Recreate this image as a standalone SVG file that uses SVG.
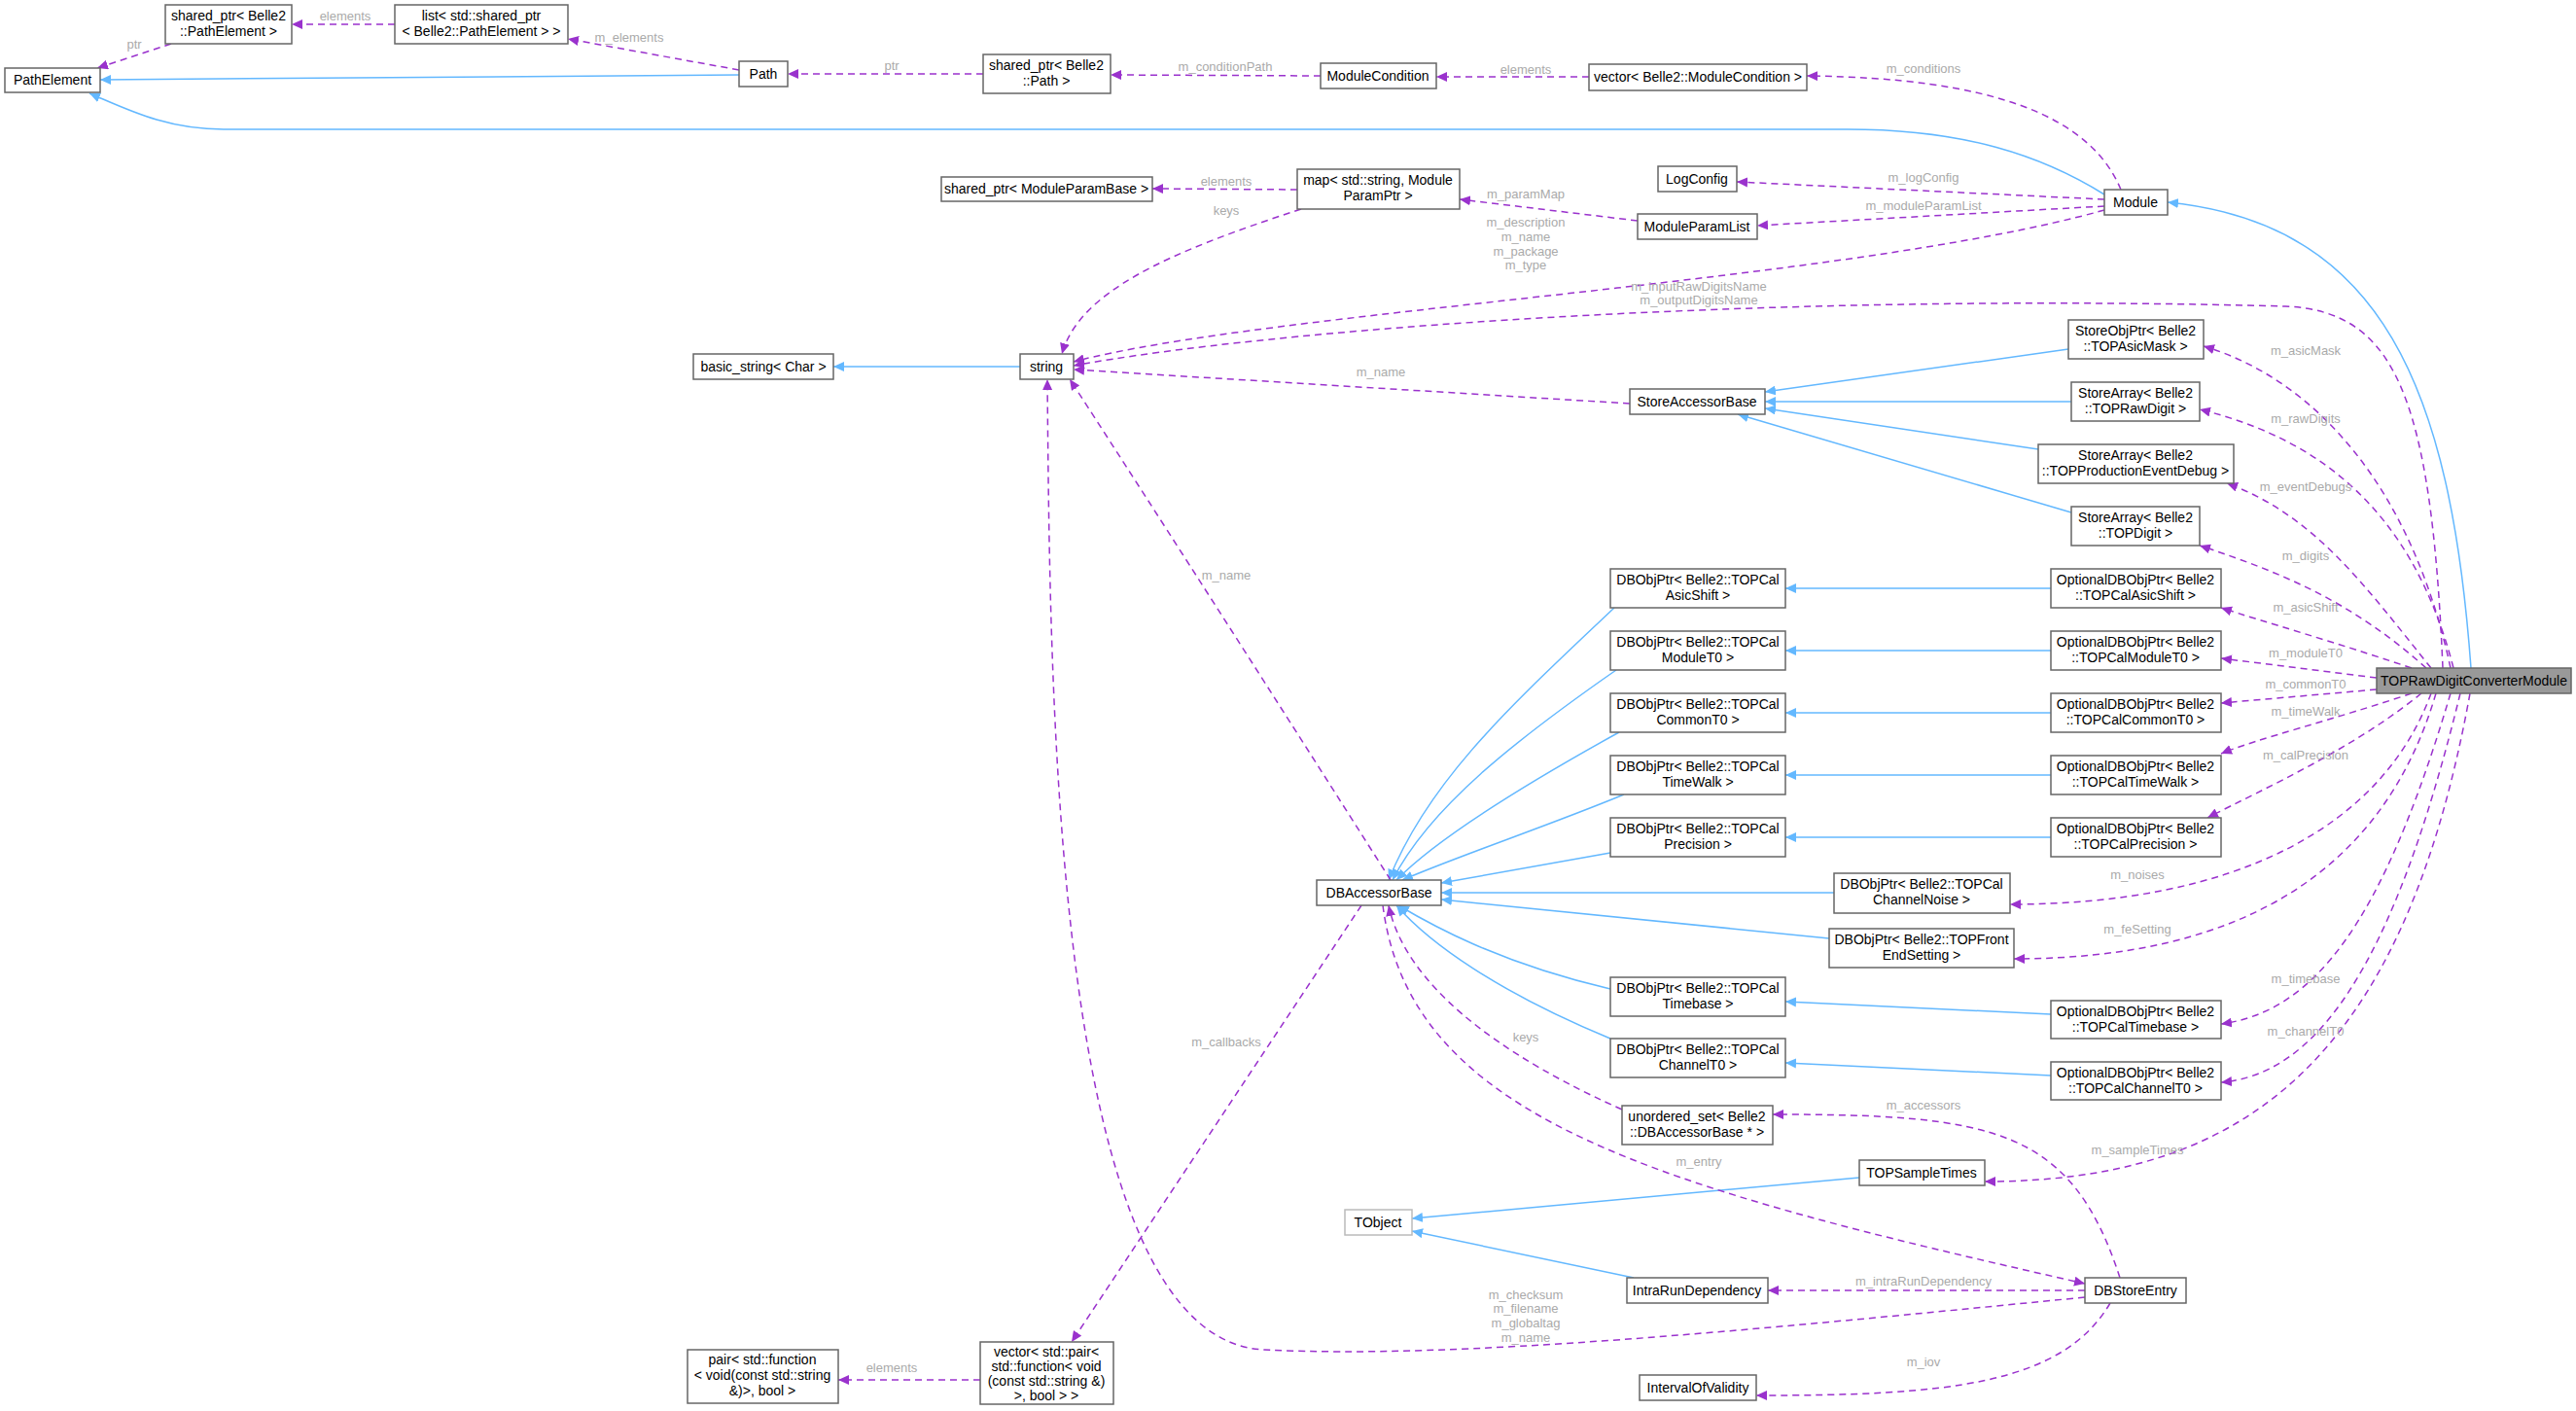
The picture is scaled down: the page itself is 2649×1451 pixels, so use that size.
<svg xmlns="http://www.w3.org/2000/svg" width="2649" height="1451" viewBox="0 0 2649 1451">
<style>
.n rect{fill:#fff;stroke:#666;stroke-width:1.5}
.n text{font-family:"Liberation Sans",Arial,sans-serif;font-size:14px;fill:#000;text-anchor:middle}
.b{fill:none;stroke:#63b8ff;stroke-width:1.5}
.p{fill:none;stroke:#9a32cd;stroke-width:1.5;stroke-dasharray:7,5}
.l{font-family:"Liberation Sans",Arial,sans-serif;font-size:13px;fill:#aaa;text-anchor:middle}
</style>
<defs>
<marker id="ab" markerWidth="12" markerHeight="10" refX="11" refY="5" orient="auto" markerUnits="userSpaceOnUse"><path d="M0,0 L11,5 L0,10 z" fill="#63b8ff"/></marker>
<marker id="ap" markerWidth="12" markerHeight="10" refX="11" refY="5" orient="auto" markerUnits="userSpaceOnUse"><path d="M0,0 L11,5 L0,10 z" fill="#9a32cd"/></marker>
</defs>
<rect width="2649" height="1451" fill="#fff"/>
<g id="edges">
<g marker-end="url(#ab)">
<path class="b" d="M760,77 L103,82"/>
<path class="b" d="M2164,200 C2100,160 2020,133 1900,133 L230,133 C170,133 130,112 92,96"/>
<path class="b" d="M2541,687 C2520,400 2450,230 2229,208"/>
<path class="b" d="M2127,359 L1815,403"/>
<path class="b" d="M2130,413 L1815,413"/>
<path class="b" d="M2096,462 L1815,420"/>
<path class="b" d="M2130,527 L1787,426"/>
<path class="b" d="M2109,605 L1836,605"/>
<path class="b" d="M2109,669 L1836,669"/>
<path class="b" d="M2109,733 L1836,733"/>
<path class="b" d="M2109,797 L1836,797"/>
<path class="b" d="M2109,861 L1836,861"/>
<path class="b" d="M2109,1043 L1836,1030"/>
<path class="b" d="M2109,1106 L1836,1093"/>
<path class="b" d="M1660,625 C1560,720 1470,800 1428,905"/>
<path class="b" d="M1662,689 C1560,760 1470,830 1432,905"/>
<path class="b" d="M1665,753 C1580,800 1480,860 1436,905"/>
<path class="b" d="M1670,817 C1590,850 1500,880 1442,905"/>
<path class="b" d="M1656,877 L1482,908"/>
<path class="b" d="M1886,918 L1482,918"/>
<path class="b" d="M1881,965 L1482,925"/>
<path class="b" d="M1656,1017 C1540,990 1470,950 1438,931"/>
<path class="b" d="M1656,1068 C1540,1020 1470,970 1436,931"/>
<path class="b" d="M1049,377 L857,377"/>
<path class="b" d="M1912,1211 L1452,1253"/>
<path class="b" d="M1680,1314 L1452,1266"/>
</g>
<g marker-end="url(#ap)">
<path class="p" d="M176,45 L100,70"/>
<path class="p" d="M406,25 L300,25"/>
<path class="p" d="M760,72 L584,40"/>
<path class="p" d="M1011,76 L810,76"/>
<path class="p" d="M1358,78 L1142,77"/>
<path class="p" d="M1634,79 L1477,79"/>
<path class="p" d="M2181,195 C2150,120 2050,80 1858,78"/>
<path class="p" d="M2164,205 L1786,187"/>
<path class="p" d="M2164,212 L1807,232"/>
<path class="p" d="M1684,227 L1501,205"/>
<path class="p" d="M1334,195 L1185,194"/>
<path class="p" d="M1338,215 C1200,260 1110,300 1092,364"/>
<path class="p" d="M2164,216 C1900,290 1300,320 1104,372"/>
<path class="p" d="M2512,687 C2500,400 2460,320 2350,315 C1800,300 1300,340 1104,376"/>
<path class="p" d="M1676,415 L1104,380"/>
<path class="p" d="M1430,905 C1300,700 1120,420 1100,390"/>
<path class="p" d="M2144,1334 C1800,1368 1500,1398 1300,1388 C1080,1378 1080,700 1077,390"/>
<path class="p" d="M1400,931 L1102,1380"/>
<path class="p" d="M1008,1419 L862,1419"/>
<path class="p" d="M1668,1141 C1500,1066 1440,990 1428,931"/>
<path class="p" d="M2180,1314 C2130,1160 2050,1146 1823,1146"/>
<path class="p" d="M1422,931 C1450,1150 1700,1220 2144,1320"/>
<path class="p" d="M2144,1327 L1818,1327"/>
<path class="p" d="M2170,1340 C2120,1425 2000,1435 1806,1435"/>
<path class="p" d="M2520,687 C2480,500 2380,390 2266,356"/>
<path class="p" d="M2523,687 C2480,520 2380,450 2262,421"/>
<path class="p" d="M2500,687 C2430,600 2380,530 2290,497"/>
<path class="p" d="M2495,687 C2420,620 2350,590 2262,561"/>
<path class="p" d="M2480,687 C2400,660 2330,640 2284,625"/>
<path class="p" d="M2444,697 L2284,677"/>
<path class="p" d="M2444,709 L2284,723"/>
<path class="p" d="M2480,713 C2400,740 2320,760 2284,775"/>
<path class="p" d="M2490,713 C2420,770 2330,810 2270,841"/>
<path class="p" d="M2500,713 C2450,850 2300,930 2067,930"/>
<path class="p" d="M2505,713 C2450,900 2300,986 2071,986"/>
<path class="p" d="M2520,713 C2450,950 2380,1040 2284,1053"/>
<path class="p" d="M2530,713 C2460,1000 2380,1105 2284,1113"/>
<path class="p" d="M2540,713 C2470,1100 2300,1215 2041,1215"/>
</g>
<g>
<text class="l" x="138" y="50">ptr</text>
<text class="l" x="355" y="21">elements</text>
<text class="l" x="647" y="43">m_elements</text>
<text class="l" x="917" y="72">ptr</text>
<text class="l" x="1260" y="73">m_conditionPath</text>
<text class="l" x="1569" y="76">elements</text>
<text class="l" x="1978" y="75">m_conditions</text>
<text class="l" x="1978" y="187">m_logConfig</text>
<text class="l" x="1978" y="216">m_moduleParamList</text>
<text class="l" x="1569" y="204">m_paramMap</text>
<text class="l" x="1261" y="191">elements</text>
<text class="l" x="1261" y="221">keys</text>
<text class="l" x="1569" y="233">m_description</text>
<text class="l" x="1569" y="248">m_name</text>
<text class="l" x="1569" y="263">m_package</text>
<text class="l" x="1569" y="277">m_type</text>
<text class="l" x="1747" y="299">m_inputRawDigitsName</text>
<text class="l" x="1747" y="313">m_outputDigitsName</text>
<text class="l" x="1420" y="387">m_name</text>
<text class="l" x="1261" y="596">m_name</text>
<text class="l" x="1261" y="1076">m_callbacks</text>
<text class="l" x="917" y="1411">elements</text>
<text class="l" x="1569" y="1071">keys</text>
<text class="l" x="1978" y="1141">m_accessors</text>
<text class="l" x="1747" y="1199">m_entry</text>
<text class="l" x="1978" y="1322">m_intraRunDependency</text>
<text class="l" x="1569" y="1336">m_checksum</text>
<text class="l" x="1569" y="1350">m_filename</text>
<text class="l" x="1569" y="1365">m_globaltag</text>
<text class="l" x="1569" y="1380">m_name</text>
<text class="l" x="1978" y="1405">m_iov</text>
<text class="l" x="2371" y="365">m_asicMask</text>
<text class="l" x="2371" y="435">m_rawDigits</text>
<text class="l" x="2371" y="505">m_eventDebugs</text>
<text class="l" x="2371" y="576">m_digits</text>
<text class="l" x="2371" y="629">m_asicShift</text>
<text class="l" x="2371" y="676">m_moduleT0</text>
<text class="l" x="2371" y="708">m_commonT0</text>
<text class="l" x="2371" y="736">m_timeWalk</text>
<text class="l" x="2371" y="781">m_calPrecision</text>
<text class="l" x="2198" y="904">m_noises</text>
<text class="l" x="2198" y="960">m_feSetting</text>
<text class="l" x="2371" y="1011">m_timebase</text>
<text class="l" x="2371" y="1065">m_channelT0</text>
<text class="l" x="2198" y="1187">m_sampleTimes</text>
</g>
</g>
<g id="n_spPE" class="n"><rect x="170" y="5" width="130" height="40"/><text x="235" y="21">shared_ptr&lt; Belle2</text><text x="235" y="37">::PathElement &gt;</text></g>
<g id="n_list" class="n"><rect x="406" y="5" width="178" height="40"/><text x="495" y="21">list&lt; std::shared_ptr</text><text x="495" y="37">&lt; Belle2::PathElement &gt; &gt;</text></g>
<g id="n_PathElement" class="n"><rect x="5" y="70" width="98" height="25"/><text x="54" y="87">PathElement</text></g>
<g id="n_Path" class="n"><rect x="760" y="63" width="50" height="26"/><text x="785" y="81">Path</text></g>
<g id="n_spPath" class="n"><rect x="1011" y="56" width="131" height="40"/><text x="1076" y="72">shared_ptr&lt; Belle2</text><text x="1076" y="88">::Path &gt;</text></g>
<g id="n_ModuleCondition" class="n"><rect x="1358" y="65" width="119" height="26"/><text x="1417" y="83">ModuleCondition</text></g>
<g id="n_vecMC" class="n"><rect x="1634" y="66" width="224" height="27"/><text x="1746" y="84">vector&lt; Belle2::ModuleCondition &gt;</text></g>
<g id="n_spMPB" class="n"><rect x="968" y="182" width="217" height="25"/><text x="1076" y="199">shared_ptr&lt; ModuleParamBase &gt;</text></g>
<g id="n_map" class="n"><rect x="1334" y="174" width="167" height="41"/><text x="1417" y="190">map&lt; std::string, Module</text><text x="1417" y="206">ParamPtr &gt;</text></g>
<g id="n_LogConfig" class="n"><rect x="1705" y="171" width="81" height="26"/><text x="1745" y="189">LogConfig</text></g>
<g id="n_ModuleParamList" class="n"><rect x="1684" y="220" width="123" height="26"/><text x="1745" y="238">ModuleParamList</text></g>
<g id="n_Module" class="n"><rect x="2164" y="195" width="65" height="26"/><text x="2196" y="213">Module</text></g>
<g id="n_basic_string" class="n"><rect x="713" y="364" width="144" height="26"/><text x="785" y="382">basic_string&lt; Char &gt;</text></g>
<g id="n_string" class="n"><rect x="1049" y="364" width="55" height="26"/><text x="1076" y="382">string</text></g>
<g id="n_StoreAccessorBase" class="n"><rect x="1676" y="400" width="139" height="26"/><text x="1745" y="418">StoreAccessorBase</text></g>
<g id="n_AsicMask" class="n"><rect x="2127" y="329" width="139" height="40"/><text x="2196" y="345">StoreObjPtr&lt; Belle2</text><text x="2196" y="361">::TOPAsicMask &gt;</text></g>
<g id="n_RawDigit" class="n"><rect x="2130" y="393" width="132" height="40"/><text x="2196" y="409">StoreArray&lt; Belle2</text><text x="2196" y="425">::TOPRawDigit &gt;</text></g>
<g id="n_EventDebug" class="n"><rect x="2096" y="457" width="201" height="40"/><text x="2196" y="473">StoreArray&lt; Belle2</text><text x="2196" y="489">::TOPProductionEventDebug &gt;</text></g>
<g id="n_TOPDigit" class="n"><rect x="2130" y="521" width="132" height="40"/><text x="2196" y="537">StoreArray&lt; Belle2</text><text x="2196" y="553">::TOPDigit &gt;</text></g>
<g id="n_Converter" class="n"><rect x="2444" y="687" width="200" height="26" style="fill:#999;stroke:#666"/><text x="2544" y="705">TOPRawDigitConverterModule</text></g>
<g id="n_dbAsicShift" class="n"><rect x="1656" y="585" width="180" height="40"/><text x="1746" y="601">DBObjPtr&lt; Belle2::TOPCal</text><text x="1746" y="617">AsicShift &gt;</text></g>
<g id="n_dbModuleT0" class="n"><rect x="1656" y="649" width="180" height="40"/><text x="1746" y="665">DBObjPtr&lt; Belle2::TOPCal</text><text x="1746" y="681">ModuleT0 &gt;</text></g>
<g id="n_dbCommonT0" class="n"><rect x="1656" y="713" width="180" height="40"/><text x="1746" y="729">DBObjPtr&lt; Belle2::TOPCal</text><text x="1746" y="745">CommonT0 &gt;</text></g>
<g id="n_dbTimeWalk" class="n"><rect x="1656" y="777" width="180" height="40"/><text x="1746" y="793">DBObjPtr&lt; Belle2::TOPCal</text><text x="1746" y="809">TimeWalk &gt;</text></g>
<g id="n_dbPrecision" class="n"><rect x="1656" y="841" width="180" height="40"/><text x="1746" y="857">DBObjPtr&lt; Belle2::TOPCal</text><text x="1746" y="873">Precision &gt;</text></g>
<g id="n_opAsicShift" class="n"><rect x="2109" y="585" width="175" height="40"/><text x="2196" y="601">OptionalDBObjPtr&lt; Belle2</text><text x="2196" y="617">::TOPCalAsicShift &gt;</text></g>
<g id="n_opModuleT0" class="n"><rect x="2109" y="649" width="175" height="40"/><text x="2196" y="665">OptionalDBObjPtr&lt; Belle2</text><text x="2196" y="681">::TOPCalModuleT0 &gt;</text></g>
<g id="n_opCommonT0" class="n"><rect x="2109" y="713" width="175" height="40"/><text x="2196" y="729">OptionalDBObjPtr&lt; Belle2</text><text x="2196" y="745">::TOPCalCommonT0 &gt;</text></g>
<g id="n_opTimeWalk" class="n"><rect x="2109" y="777" width="175" height="40"/><text x="2196" y="793">OptionalDBObjPtr&lt; Belle2</text><text x="2196" y="809">::TOPCalTimeWalk &gt;</text></g>
<g id="n_opPrecision" class="n"><rect x="2109" y="841" width="175" height="40"/><text x="2196" y="857">OptionalDBObjPtr&lt; Belle2</text><text x="2196" y="873">::TOPCalPrecision &gt;</text></g>
<g id="n_DBAccessorBase" class="n"><rect x="1354" y="905" width="128" height="26"/><text x="1418" y="923">DBAccessorBase</text></g>
<g id="n_ChannelNoise" class="n"><rect x="1886" y="898" width="181" height="41"/><text x="1976" y="914">DBObjPtr&lt; Belle2::TOPCal</text><text x="1976" y="930">ChannelNoise &gt;</text></g>
<g id="n_FrontEnd" class="n"><rect x="1881" y="955" width="190" height="40"/><text x="1976" y="971">DBObjPtr&lt; Belle2::TOPFront</text><text x="1976" y="987">EndSetting &gt;</text></g>
<g id="n_dbTimebase" class="n"><rect x="1656" y="1005" width="180" height="40"/><text x="1746" y="1021">DBObjPtr&lt; Belle2::TOPCal</text><text x="1746" y="1037">Timebase &gt;</text></g>
<g id="n_dbChannelT0" class="n"><rect x="1656" y="1068" width="180" height="40"/><text x="1746" y="1084">DBObjPtr&lt; Belle2::TOPCal</text><text x="1746" y="1100">ChannelT0 &gt;</text></g>
<g id="n_opTimebase" class="n"><rect x="2109" y="1029" width="175" height="39"/><text x="2196" y="1045">OptionalDBObjPtr&lt; Belle2</text><text x="2196" y="1061">::TOPCalTimebase &gt;</text></g>
<g id="n_opChannelT0" class="n"><rect x="2109" y="1092" width="175" height="39"/><text x="2196" y="1108">OptionalDBObjPtr&lt; Belle2</text><text x="2196" y="1124">::TOPCalChannelT0 &gt;</text></g>
<g id="n_unordered" class="n"><rect x="1668" y="1137" width="155" height="40"/><text x="1745" y="1153">unordered_set&lt; Belle2</text><text x="1745" y="1169">::DBAccessorBase * &gt;</text></g>
<g id="n_SampleTimes" class="n"><rect x="1912" y="1193" width="129" height="26"/><text x="1976" y="1211">TOPSampleTimes</text></g>
<g id="n_TObject" class="n"><rect x="1383" y="1244" width="69" height="26" style="stroke:#bbb"/><text x="1417" y="1262">TObject</text></g>
<g id="n_IntraRun" class="n"><rect x="1673" y="1314" width="145" height="26"/><text x="1745" y="1332">IntraRunDependency</text></g>
<g id="n_DBStoreEntry" class="n"><rect x="2144" y="1314" width="104" height="26"/><text x="2196" y="1332">DBStoreEntry</text></g>
<g id="n_IoV" class="n"><rect x="1686" y="1414" width="120" height="26"/><text x="1746" y="1432">IntervalOfValidity</text></g>
<g id="n_pair" class="n"><rect x="707" y="1388" width="155" height="55"/><text x="784" y="1403">pair&lt; std::function</text><text x="784" y="1419">&lt; void(const std::string</text><text x="784" y="1435">&amp;)&gt;, bool &gt;</text></g>
<g id="n_vecPair" class="n"><rect x="1008" y="1380" width="137" height="64"/><text x="1076" y="1395">vector&lt; std::pair&lt;</text><text x="1076" y="1410">std::function&lt; void</text><text x="1076" y="1425">(const std::string &amp;)</text><text x="1076" y="1440">&gt;, bool &gt; &gt;</text></g>
</svg>
